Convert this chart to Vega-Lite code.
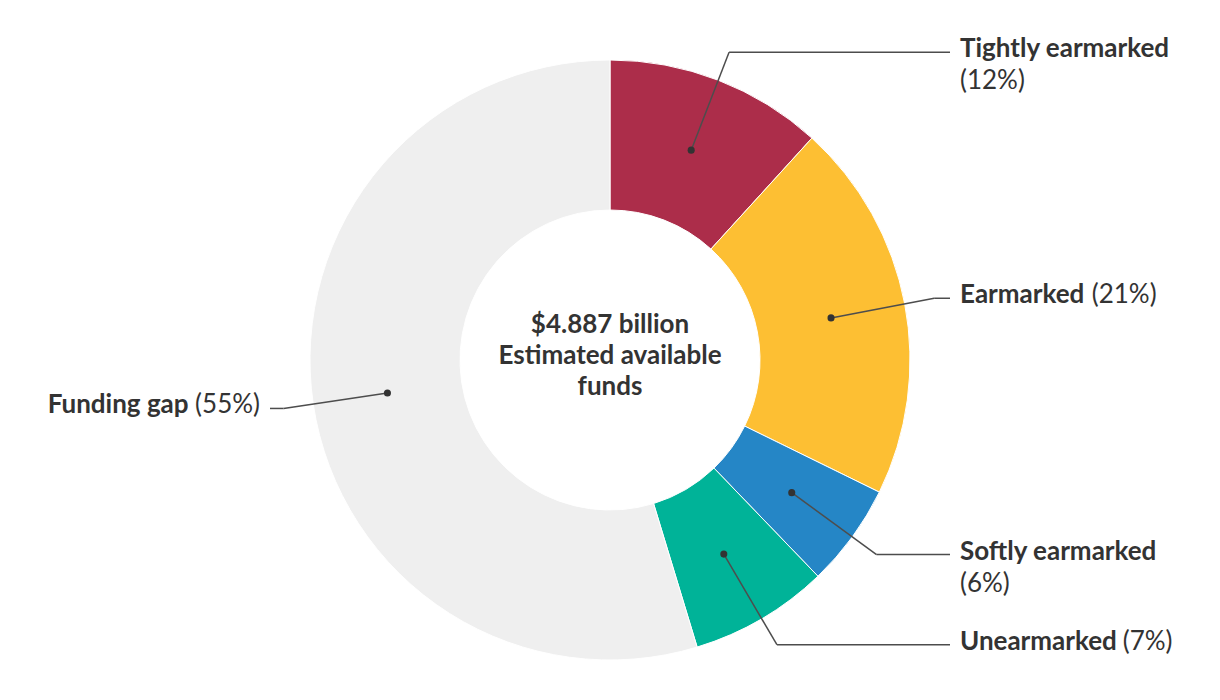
{
  "$schema": "https://vega.github.io/schema/vega-lite/v6.json",
  "width": 1220,
  "height": 680,
  "autosize": {"type": "none"},
  "padding": {"left": 0, "right": 0, "top": 20, "bottom": 0},
  "background": "#ffffff",
  "config": {"view": {"stroke": null}, "font": "Lato"},
  "datasets": {
    "center": [{"headline": "$4.887 billion\nEstimated available\nfunds"}]
  },
  "data": {
    "values": [
      {"category": "Tightly earmarked", "share": 11.75, "label": "(12%)", "order": 1},
      {"category": "Earmarked", "share": 20.51, "label": "(21%)", "order": 2},
      {"category": "Softly earmarked", "share": 5.55, "label": "(6%)", "order": 3},
      {"category": "Unearmarked", "share": 7.5, "label": "(7%)", "order": 4},
      {"category": "Funding gap", "share": 54.69, "label": "(55%)", "order": 5}
    ]
  },
  "transform": [
    {"window": [{"op": "sum", "field": "share", "as": "cum"}], "sort": [{"field": "order"}], "frame": [null, 0]},
    {"joinaggregate": [{"op": "sum", "field": "share", "as": "total"}]},
    {"calculate": "(datum.cum - datum.share / 2) / datum.total * 2 * PI", "as": "mid"},
    {"calculate": "225 * sin(datum.mid)", "as": "xd"},
    {"calculate": "225 * cos(datum.mid)", "as": "yd"},
    {"calculate": "330 * sin(datum.mid)", "as": "xe"},
    {"calculate": "330 * cos(datum.mid)", "as": "ye"},
    {"calculate": "datum.xe >= 0 ? 340 : -340", "as": "xend"},
    {"calculate": "datum.xe >= 0 ? 350 : -350", "as": "xl"},
    {"calculate": "datum.xe >= 0 ? 'R' : 'L'", "as": "side"},
    {"calculate": "length(datum.category) > 12", "as": "wrap"},
    {"calculate": "datum.side == 'L' ? datum.xl - (length(datum.label) + 1) * 11.9 : datum.xl", "as": "xn"},
    {"calculate": "datum.side == 'L' ? datum.xl : (datum.wrap ? datum.xl : datum.xl + length(datum.category) * 15.5 - 7.8)", "as": "xp"},
    {"calculate": "datum.wrap ? datum.ye - 32 : datum.ye", "as": "yp"}
  ],
  "layer": [
    {
      "mark": {"type": "arc", "outerRadius": 300, "innerRadius": 150, "stroke": "#ffffff", "strokeWidth": 1},
      "encoding": {
        "theta": {"field": "share", "type": "quantitative", "stack": true},
        "order": {"field": "order", "type": "quantitative"},
        "color": {
          "field": "category",
          "type": "nominal",
          "legend": null,
          "scale": {
            "domain": ["Tightly earmarked", "Earmarked", "Softly earmarked", "Unearmarked", "Funding gap"],
            "range": ["#AC2D4A", "#FDBF33", "#2586C6", "#00B398", "#EFEFEF"]
          }
        }
      }
    },
    {
      "mark": {"type": "rule", "color": "#4d4d4d", "strokeWidth": 1.5},
      "encoding": {
        "x": {"field": "xd", "type": "quantitative", "scale": {"domain": [-610, 610], "nice": false, "zero": false}, "axis": null},
        "y": {"field": "yd", "type": "quantitative", "scale": {"domain": [-340, 340], "nice": false, "zero": false}, "axis": null},
        "x2": {"field": "xe"},
        "y2": {"field": "ye"}
      }
    },
    {
      "mark": {"type": "rule", "color": "#4d4d4d", "strokeWidth": 1.5},
      "encoding": {
        "x": {"field": "xe", "type": "quantitative"},
        "y": {"field": "ye", "type": "quantitative"},
        "x2": {"field": "xend"}
      }
    },
    {
      "mark": {"type": "point", "filled": true, "color": "#333333", "opacity": 1, "size": 50},
      "encoding": {
        "x": {"field": "xd", "type": "quantitative"},
        "y": {"field": "yd", "type": "quantitative"}
      }
    },
    {
      "transform": [{"filter": "datum.side == 'R'"}],
      "mark": {"type": "text", "align": "left", "baseline": "alphabetic", "dy": 5, "fontSize": 26, "fontWeight": "bold", "color": "#333333", "font": "Lato"},
      "encoding": {
        "x": {"field": "xn", "type": "quantitative"},
        "y": {"field": "ye", "type": "quantitative"},
        "text": {"field": "category"}
      }
    },
    {
      "transform": [{"filter": "datum.side == 'R'"}],
      "mark": {"type": "text", "align": "left", "baseline": "alphabetic", "dy": 5, "fontSize": 26, "fontWeight": "normal", "color": "#333333", "font": "Lato"},
      "encoding": {
        "x": {"field": "xp", "type": "quantitative"},
        "y": {"field": "yp", "type": "quantitative"},
        "text": {"field": "label"}
      }
    },
    {
      "transform": [{"filter": "datum.side == 'L'"}],
      "mark": {"type": "text", "align": "right", "baseline": "alphabetic", "dy": 5, "fontSize": 26, "fontWeight": "bold", "color": "#333333", "font": "Lato"},
      "encoding": {
        "x": {"field": "xn", "type": "quantitative"},
        "y": {"field": "ye", "type": "quantitative"},
        "text": {"field": "category"}
      }
    },
    {
      "transform": [{"filter": "datum.side == 'L'"}],
      "mark": {"type": "text", "align": "right", "baseline": "alphabetic", "dy": 5, "fontSize": 26, "fontWeight": "normal", "color": "#333333", "font": "Lato"},
      "encoding": {
        "x": {"field": "xp", "type": "quantitative"},
        "y": {"field": "yp", "type": "quantitative"},
        "text": {"field": "label"}
      }
    },
    {
      "data": {"name": "center"},
      "mark": {"type": "text", "align": "center", "baseline": "alphabetic", "dy": -27, "lineBreak": "\n", "lineHeight": 31, "fontSize": 26, "fontWeight": "bold", "color": "#333333", "font": "Lato"},
      "encoding": {
        "x": {"datum": 0, "type": "quantitative"},
        "y": {"datum": 0, "type": "quantitative"},
        "text": {"field": "headline"}
      }
    }
  ]
}
